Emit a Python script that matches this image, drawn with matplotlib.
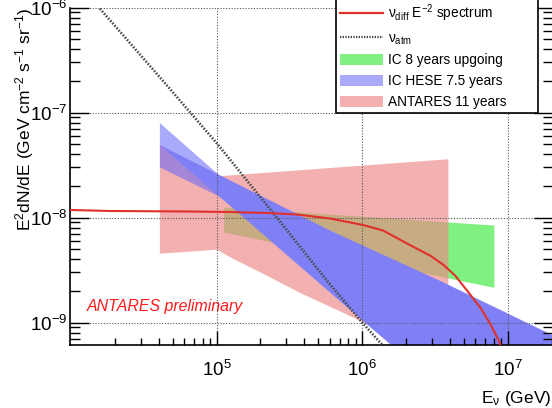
import numpy as np
import matplotlib
matplotlib.use("Agg")
import matplotlib.pyplot as plt
from matplotlib.lines import Line2D
from matplotlib.patches import Patch
from matplotlib.ticker import LogLocator, FixedLocator, NullFormatter, FuncFormatter

plt.rcParams['font.family'] = ['Liberation Sans', 'DejaVu Sans']
plt.rcParams['mathtext.fontset'] = 'custom'
plt.rcParams['mathtext.rm'] = 'Liberation Sans'
plt.rcParams['mathtext.it'] = 'Liberation Sans:italic'
plt.rcParams['mathtext.bf'] = 'Liberation Sans:bold'

# ---------------- data ----------------
# nu_diff E^-2 spectrum (red line)
diff_E = [9.8e3, 1.84e4, 6.55e4, 1.235e5, 2.44e5, 3.57e5, 6.03e5, 1.016e6, 1.395e6,
          2.04e6, 2.94e6, 3.61e6, 4.36e6, 5.28e6, 6.49e6, 7.60e6, 8.49e6, 9.34e6]
diff_F = [1.180e-8, 1.154e-8, 1.141e-8, 1.129e-8, 1.099e-8, 1.068e-8, 9.78e-9, 8.48e-9, 7.51e-9,
          5.64e-9, 4.33e-9, 3.55e-9, 2.79e-9, 2.00e-9, 1.385e-9, 9.67e-10, 7.15e-10, 5.34e-10]

# nu_atm (dotted line)
atm_E = [9.8e3, 1.574e4, 4.21e4, 1.0e5, 2.59e5, 5.74e5, 1.0e6, 1.396e6, 2.0e6]
atm_F = [2.09e-6, 9.77e-7, 2.05e-7, 5.11e-8, 1.0e-8, 2.49e-9, 1.0e-9, 5.96e-10, 3.43e-10]

# IC 8 years upgoing (green band)
ic8_E = [1.123e5, 8.10e6, 8.10e6, 1.123e5]
ic8_F = [1.246e-8, 8.38e-9, 2.14e-9, 7.19e-9]

# ANTARES 11 years (pink band)
ant_E = [4.07e4, 1.037e5, 3.91e6, 3.91e6, 8.27e5, 3.74e5, 2.22e5, 1.295e5, 1.005e5, 4.07e4]
ant_F = [4.89e-8, 2.47e-8, 3.59e-8, 3.92e-10, 1.154e-9, 1.915e-9, 2.79e-9, 4.05e-9, 4.94e-9, 4.52e-9]

# IC HESE 7.5 years (blue band): soft-index part (translucent) and main part
hese_soft_E = [4.07e4, 2.48e5, 4.07e4]
hese_soft_F = [7.93e-8, 8.76e-9, 3.01e-8]
hese_E = [4.07e4, 1.235e5, 6.02e5, 3.44e6, 2.06e7, 2.06e7, 8.27e5, 1.695e5]
hese_F = [4.89e-8, 2.26e-8, 7.51e-9, 2.49e-9, 7.51e-10, 2.91e-11, 1.317e-9, 8.86e-9]

labels = [r"$\mathregular{\nu_{diff}}$ E$^{-2}$ spectrum", r"$\mathregular{\nu_{atm}}$",
          "IC 8 years upgoing", "IC HESE 7.5 years", "ANTARES 11 years"]
xticks = [1e5, 1e6, 1e7]
yticks = [1e-9, 1e-8, 1e-7, 1e-6]

# ---------------- figure ----------------
W, H = 552, 408
fig = plt.figure(figsize=(W / 100, H / 100), dpi=100)
ax = fig.add_axes([70 / W, (H - 345) / H, 483 / W, (345 - 7.5) / H])
ax.set_xscale('log')
ax.set_yscale('log')
ax.set_xlim(10 ** 3.9918, 10 ** 7.3113)
ax.set_ylim(10 ** -9.214, 1e-6)

green = (128 / 255, 240 / 255, 128 / 255)
pink_c = (238 / 255, 134 / 255, 134 / 255)
light_blue = (100 / 255, 100 / 255, 250 / 255)
mid_blue = (128 / 255, 128 / 255, 246 / 255)

ax.fill(ic8_E, ic8_F, color=green, lw=0, zorder=1.0)
ax.fill(ant_E, ant_F, color=pink_c, alpha=0.65, lw=0, zorder=1.1)
ax.fill(hese_soft_E, hese_soft_F, color=light_blue, alpha=0.55, lw=0, zorder=1.2)
ax.fill(hese_E, hese_F, color=mid_blue, lw=0, zorder=1.3)

ax.set_axisbelow(False)
ax.grid(True, which='major', linestyle=(0, (1, 1.5)), color='#555555', lw=0.8)

ax.plot(atm_E, atm_F, color='#4a4a4a', lw=1.9, linestyle=(0, (0.6, 0.6)), zorder=3)
ax.plot(diff_E, diff_F, color='#e0302a', lw=1.5, zorder=4)

ax.xaxis.set_major_locator(FixedLocator(xticks))
ax.yaxis.set_major_locator(FixedLocator(yticks))
ax.xaxis.set_minor_locator(LogLocator(base=10, subs=np.arange(2, 10)))
ax.yaxis.set_minor_locator(LogLocator(base=10, subs=np.arange(2, 10)))
ax.xaxis.set_minor_formatter(NullFormatter())
ax.yaxis.set_minor_formatter(NullFormatter())
fmt = FuncFormatter(lambda v, p: r"$10^{%d}$" % int(round(np.log10(v))))
ax.xaxis.set_major_formatter(fmt)
ax.yaxis.set_major_formatter(fmt)

ax.tick_params(axis='y', which='major', direction='in', length=14, width=1.0,
               left=True, right=True, labelsize=13.5, pad=2)
ax.tick_params(axis='y', which='minor', direction='in', length=7, width=1.0,
               left=True, right=True)
ax.tick_params(axis='x', which='major', direction='in', length=10, width=1.0,
               bottom=True, top=False, labelsize=13.5, pad=11)
ax.tick_params(axis='x', which='minor', direction='in', length=5, width=1.0,
               bottom=True, top=False)
for s in ['left', 'bottom', 'right']:
    ax.spines[s].set_linewidth(1.2)
ax.spines['top'].set_visible(False)

# axis titles
fig.text(25 / W, 1 - 7 / H, r"E$^{2}$dN/dE (GeV cm$^{-2}$ s$^{-1}$ sr$^{-1}$)",
         rotation=90, ha='center', va='top', fontsize=12.5)
fig.text(551 / W, 1 - 398 / H, r"E$_{\mathregular{\nu}}$ (GeV)", ha='right', va='center',
         fontsize=12.5)
fig.text(87 / W, 1 - 307 / H, "ANTARES preliminary", color='#ff1a1a', style='italic',
         fontsize=11.4, ha='left', va='center')

# legend
handles = [Line2D([], [], color='#e0302a', lw=1.6),
           Line2D([], [], color='#4a4a4a', lw=1.6, linestyle=(0, (0.6, 0.6))),
           Patch(facecolor=green, edgecolor='none'),
           Patch(facecolor=(170 / 255, 170 / 255, 248 / 255), edgecolor='none'),
           Patch(facecolor=(244 / 255, 176 / 255, 176 / 255), edgecolor='none')]
leg = fig.legend(handles, labels, loc='lower left',
                 bbox_to_anchor=(336 / W, (H - 113) / H, 202 / W, 0.4),
                 bbox_transform=fig.transFigure, mode='expand', borderaxespad=0,
                 fontsize=9.8, handlelength=3.16, handleheight=0.88, handletextpad=0.35,
                 labelspacing=0.5, borderpad=0.3, fancybox=False, framealpha=1,
                 edgecolor='black')
leg.get_frame().set_linewidth(1.2)

fig.savefig('out.png', dpi=100)
